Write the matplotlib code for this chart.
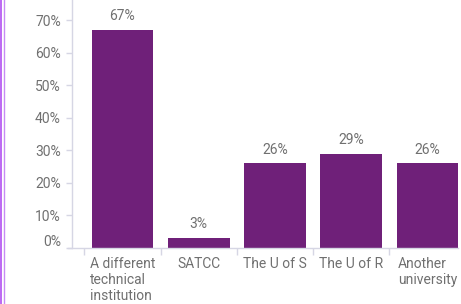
import matplotlib
matplotlib.use("Agg")
import matplotlib.pyplot as plt
import matplotlib.transforms as mtransforms
from matplotlib.lines import Line2D

categories = ["A different\ntechnical\ninstitution", "SATCC", "The U of S", "The U of R", "Another\nuniversity"]
values = [67, 3, 26, 29, 26]
yticks = [0, 10, 20, 30, 40, 50, 60, 70]
ytick_labels = ["0%", "10%", "20%", "30%", "40%", "50%", "60%", "70%"]

plt.rcParams['font.family'] = ['Roboto', 'DejaVu Sans']
text_color = "#707070"
axis_color = "#d6d6e4"
bar_color = "#6f2079"
fs = 10

W, H = 461, 304
fig = plt.figure(figsize=(W / 100, H / 100), dpi=100)
ax = fig.add_axes([72 / W, (H - 248) / H, (458 - 72) / W, 248 / H])

x = list(range(len(categories)))
ax.bar(x, values, width=0.81, color=bar_color, zorder=2)
for xi, v in zip(x, values):
    ax.annotate(f"{v}%", (xi, v), xytext=(0, 5), textcoords="offset points",
                ha="center", va="bottom", fontsize=fs, color=text_color)

ax.set_xlim(-0.662, 4.4)
ax.set_ylim(0, 76.3)

ax.set_yticks(yticks)
ax.set_yticklabels(ytick_labels, fontsize=fs, color=text_color)
ax.tick_params(axis="y", length=4, width=1, color=axis_color, pad=4)
# shift the 0% label upwards like the reference
lbl0 = ax.get_yticklabels()[0]
lbl0.set_transform(lbl0.get_transform() + mtransforms.ScaledTranslation(0, 8 / 100, fig.dpi_scale_trans))

ax.set_xticks(x)
ax.set_xticklabels(categories, fontsize=fs, color=text_color, va="top", ha="center",
                   multialignment="left", linespacing=1.2)
ax.tick_params(axis="x", which="major", length=0, pad=6.5)
ax.set_xticks([i - 0.5 for i in x], minor=True)
ax.tick_params(axis="x", which="minor", length=5, width=1, color=axis_color)

for side in ["top", "right"]:
    ax.spines[side].set_visible(False)
for side in ["left", "bottom"]:
    ax.spines[side].set_color(axis_color)
    ax.spines[side].set_linewidth(1)
ax.spines["bottom"].set_bounds(-0.72, 4.4)

# left border lines seen in the reference
fig.add_artist(Line2D([1 / W, 1 / W], [0, 1], transform=fig.transFigure, color="#b04ef0", lw=1.2))
fig.add_artist(Line2D([3.5 / W, 3.5 / W], [0, 1], transform=fig.transFigure, color="#c78af5", lw=1.0))

fig.savefig("out.png", dpi=100)
